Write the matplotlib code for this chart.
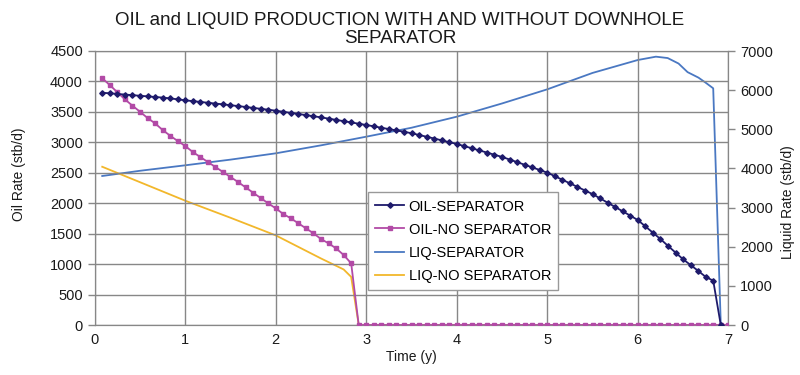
import matplotlib
matplotlib.use("Agg")
import matplotlib.pyplot as plt
import numpy as np

plt.rcParams['font.family'] = ['Liberation Sans', 'DejaVu Sans']

# ---------------- data ----------------
months_oil_sep = list(range(1, 84))          # month index (time = month/12)
oil_sep = [3815, 3805, 3795, 3785, 3775, 3765, 3755, 3745, 3735, 3722, 3706, 3690,
           3677, 3664, 3650, 3637, 3624, 3610, 3596, 3581, 3566, 3551, 3536, 3520,
           3502, 3484, 3466, 3447, 3429, 3410, 3390, 3369, 3348, 3327, 3306, 3285,
           3263, 3240, 3218, 3195, 3173, 3150, 3121, 3092, 3063, 3033, 3003, 2973,
           2938, 2903, 2867, 2832, 2796, 2760, 2718, 2675, 2632, 2589, 2546, 2502,
           2444, 2385, 2327, 2268, 2209, 2150, 2080, 2009, 1938, 1867, 1796, 1724,
           1620, 1516, 1412, 1300, 1190, 1080, 985, 890, 790, 728, 0]

months_oil_nosep = list(range(1, 85))
oil_nosep = [4051, 3941, 3822, 3706, 3602, 3503, 3400, 3312, 3203, 3109, 3022, 2940,
             2841, 2759, 2677, 2595, 2513, 2431, 2348, 2261, 2173, 2086, 1998, 1916,
             1823, 1752, 1670, 1588, 1506, 1412, 1341, 1259, 1150, 1013,
             0, 0, 0, 0, 0, 0, 0, 0, 0, 0, 0, 0, 0, 0, 0, 0, 0, 0, 0, 0, 0, 0,
             0, 0, 0, 0, 0, 0, 0, 0, 0, 0, 0, 0, 0, 0, 0, 0, 0, 0, 0, 0, 0, 0,
             0, 0, 0, 0, 0, 0]

t_liq_sep = [0.083, 0.5, 1.0, 1.5, 2.0, 2.5, 3.0, 3.5, 4.0, 4.5, 5.0, 5.5, 6.0,
             6.2, 6.33, 6.45, 6.55, 6.67, 6.75, 6.833, 6.917]
liq_sep = [3807, 3940, 4080, 4225, 4386, 4590, 4811, 5040, 5322, 5660, 6021, 6440,
           6770, 6855, 6820, 6680, 6460, 6320, 6190, 6047, 0]

t_liq_nosep = [0.083, 1.0, 1.5, 2.0, 2.5, 2.75, 2.833, 2.917, 7.0]
liq_nosep = [4043, 3176, 2740, 2290, 1700, 1420, 1230, 0, 0]

series_names = ["OIL-SEPARATOR", "OIL-NO SEPARATOR", "LIQ-SEPARATOR", "LIQ-NO SEPARATOR"]
x_ticks = [0, 1, 2, 3, 4, 5, 6, 7]
oil_ticks = list(range(0, 4501, 500))
liq_ticks = list(range(0, 7001, 1000))

# ---------------- plot ----------------
fig = plt.figure(figsize=(8.0, 3.75), dpi=100)
ax = fig.add_axes([0.1184, 0.1333, 0.792, 0.7307])
ax2 = ax.twinx()

grid_c = "#878787"
text_c = "#1a1a1a"
ax.set_xlim(0, 7)
ax.set_ylim(0, 4500)
ax2.set_ylim(0, 7000)
ax.set_xticks(x_ticks)
ax.set_yticks(oil_ticks)
ax2.set_yticks(liq_ticks)
ax.grid(True, color=grid_c, linewidth=1.0)
ax.set_axisbelow(True)

t_oil_sep = np.array(months_oil_sep) / 12.0
t_oil_nosep = np.array(months_oil_nosep) / 12.0

l3, = ax2.plot(t_liq_sep, liq_sep, color="#4A78C2", lw=1.3, label=series_names[2])
l4, = ax2.plot(t_liq_nosep, liq_nosep, color="#F2B72B", lw=1.3, label=series_names[3])
l1, = ax.plot(t_oil_sep, oil_sep, color="#1E1A6B", lw=1.3, marker="D", ms=2.8,
              label=series_names[0], zorder=4)
l2, = ax.plot(t_oil_nosep, oil_nosep, color="#B24AA6", lw=1.3, marker="s", ms=3.4,
              label=series_names[1], zorder=3)
ax.set_zorder(ax2.get_zorder() + 1)
ax.patch.set_visible(False)

for a in (ax, ax2):
    for s in a.spines.values():
        s.set_color(grid_c)
    a.tick_params(colors=grid_c, labelcolor=text_c, labelsize=10.5, length=5, width=1)
ax.tick_params(axis="x", length=0, pad=6)

ax.set_xlabel("Time (y)", fontsize=10, color=text_c, labelpad=2)
ax.set_ylabel("Oil Rate (stb/d)", fontsize=10, color=text_c)
ax2.set_ylabel("Liquid Rate (stb/d)", fontsize=10, color=text_c, rotation=90)
ax.yaxis.set_label_coords(-0.108, 0.55)
ax2.yaxis.set_label_coords(1.083, 0.45)

fig.text(0.5, 0.968, "OIL and LIQUID PRODUCTION WITH AND WITHOUT DOWNHOLE\nSEPARATOR",
         ha="center", va="top", fontsize=13.5, color=text_c, linespacing=1.05)

leg = ax.legend(handles=[l1, l2, l3, l4], loc="lower left",
                bbox_to_anchor=(0.431, 0.128), borderaxespad=0, fontsize=10.5,
                frameon=True, fancybox=False, framealpha=1, edgecolor="#999999",
                handlelength=2.0, handletextpad=0.3, borderpad=0.5, labelspacing=0.62)
leg.get_frame().set_linewidth(1.0)

fig.savefig("out.png", dpi=100)
